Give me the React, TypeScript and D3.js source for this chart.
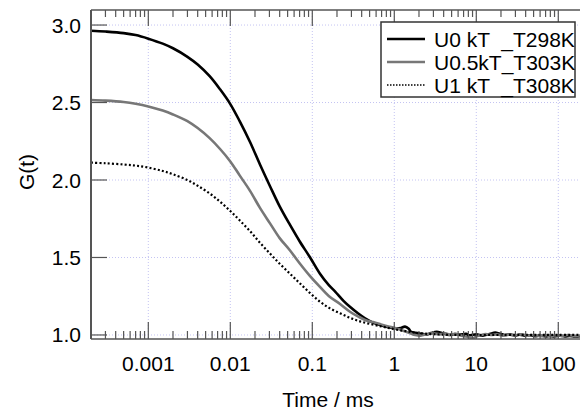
import React from "react";
import * as d3 from "d3";

// ---- data ----
const tBlack = [0.0002, 0.0003, 0.0005, 0.0007, 0.001, 0.0015, 0.002, 0.003, 0.004, 0.0056, 0.0075, 0.01, 0.013, 0.0174, 0.023, 0.0305, 0.04, 0.0535, 0.07, 0.094, 0.124, 0.16, 0.19, 0.24, 0.29, 0.36, 0.44, 0.55, 0.67, 0.85, 1.02, 1.2, 1.35, 1.5, 1.6, 2.06, 2.5, 2.8, 3.3, 3.8, 4.7, 5.5, 6.3, 7.5, 8.3, 10, 12, 14.5, 17, 19, 22, 25.6, 30, 34, 40, 45, 52, 59, 70, 78, 90, 104, 120, 137, 160, 190];
const gBlack = [2.963, 2.958, 2.948, 2.935, 2.912, 2.88, 2.85, 2.795, 2.745, 2.67, 2.585, 2.49, 2.38, 2.245, 2.1, 1.96, 1.83, 1.71, 1.605, 1.5, 1.395, 1.32, 1.28, 1.22, 1.18, 1.14, 1.107, 1.08, 1.065, 1.05, 1.043, 1.045, 1.054, 1.04, 1.02, 1.01, 1.004, 1.012, 1.02, 1.012, 1.0, 1.006, 1.002, 1.008, 0.998, 1.004, 0.996, 1.006, 1.015, 1.01, 1.0, 1.004, 0.996, 1.002, 0.994, 0.998, 0.992, 0.996, 0.99, 0.994, 0.99, 0.996, 0.99, 0.994, 0.99, 0.992];

const tGray = [0.0002, 0.0003, 0.0005, 0.0007, 0.001, 0.0015, 0.002, 0.003, 0.004, 0.0056, 0.0075, 0.01, 0.013, 0.0174, 0.023, 0.0305, 0.04, 0.0535, 0.0708, 0.094, 0.124, 0.16, 0.218, 0.288, 0.36, 0.44, 0.55, 0.67, 0.85, 1.02, 1.56, 1.8, 2.1, 2.5, 3, 3.6, 4.2, 4.7, 5.5, 6.3, 7.5, 8.3, 9, 10, 11.5, 13, 15, 18, 21, 25, 30, 36, 42, 50, 60, 70, 80, 95, 110, 130, 160, 190];
const gGray = [2.516, 2.512, 2.503, 2.492, 2.475, 2.448, 2.423, 2.38, 2.335, 2.27, 2.2, 2.12, 2.03, 1.93, 1.82, 1.72, 1.625, 1.545, 1.46, 1.38, 1.31, 1.25, 1.2, 1.15, 1.12, 1.097, 1.083, 1.07, 1.055, 1.045, 1.011, 1.0, 0.996, 1.006, 1.01, 1.004, 1.01, 1.002, 1.008, 0.998, 0.99, 0.985, 0.976, 0.99, 1.0, 1.006, 1.0, 1.004, 0.996, 1.002, 0.998, 1.004, 0.996, 1.0, 0.994, 1.0, 0.992, 0.998, 0.994, 1.0, 0.994, 0.998];

const tDot = [0.0002, 0.0003, 0.0005, 0.0007, 0.001, 0.0015, 0.002, 0.003, 0.004, 0.0056, 0.0075, 0.01, 0.013, 0.0174, 0.023, 0.0305, 0.04, 0.0535, 0.07, 0.094, 0.124, 0.16, 0.218, 0.29, 0.38, 0.506, 0.7, 0.887, 1.2, 1.56, 2, 3, 6, 20, 190];
const gDot = [2.112, 2.108, 2.1, 2.093, 2.08, 2.058, 2.037, 2.0, 1.963, 1.913, 1.86, 1.8, 1.74, 1.67, 1.595, 1.525, 1.46, 1.395, 1.335, 1.27, 1.215, 1.175, 1.14, 1.11, 1.088, 1.071, 1.055, 1.043, 1.03, 1.02, 1.012, 1.005, 1.0, 1.0, 1.0];

const seriesNames = ["U0 kT  _T298K", "U0.5kT_T303K", "U1 kT  _T308K"];
const xTickValues = [0.001, 0.01, 0.1, 1, 10, 100];
const xTickLabels = ["0.001", "0.01", "0.1", "1", "10", "100"];
const yTickValues = [1.0, 1.5, 2.0, 2.5, 3.0];
const yTickLabels = ["1.0", "1.5", "2.0", "2.5", "3.0"];

const W = 580, H = 412;
const L = 91, R = 580, T = 10, B = 339;
const FONT = "'Liberation Sans', Arial, Helvetica, sans-serif";
const AX = "#555";

export default function App() {
  const x = d3.scaleLog().domain([2.0e-4, 184]).range([L, R]);
  const y = d3.scaleLinear().domain([0.974, 3.097]).range([B, T]);

  const mk = (ts: number[], gs: number[]) =>
    d3.line<number>().x((_, i) => x(ts[i])).y((g) => y(g)).curve(d3.curveCatmullRom.alpha(0.5))(gs) || "";

  const series = [
    { d: mk(tBlack, gBlack), color: "#000", width: 2.6, dash: undefined as string | undefined },
    { d: mk(tGray, gGray), color: "#777", width: 2.6, dash: undefined },
    { d: mk(tDot, gDot), color: "#000", width: 2.2, dash: "2 2.2" },
  ];

  const minor: number[] = [];
  for (let e = -4; e <= 2; e++) {
    for (let m = 2; m <= 9; m++) {
      const v = m * Math.pow(10, e);
      if (v > 2.0e-4 && v < 184) minor.push(v);
    }
  }

  const legX = 381, legY = 22, legW = 194, legH = 75;

  return (
    <svg width={W} height={H} style={{ position: "absolute", left: 0, top: 0, background: "#fff" }} fontFamily={FONT}>
      <defs>
        <clipPath id="plotclip">
          <rect x={L} y={T} width={R - L} height={B - T} />
        </clipPath>
      </defs>
      {/* grid */}
      {xTickValues.map((v) => (
        <line key={"gx" + v} x1={x(v)} x2={x(v)} y1={T} y2={B} stroke="#c4c4f2" strokeWidth={1} strokeDasharray="1 2" />
      ))}
      {yTickValues.map((v) => (
        <line key={"gy" + v} x1={L} x2={R} y1={y(v)} y2={y(v)} stroke="#c4c4f2" strokeWidth={1} strokeDasharray="1 2" />
      ))}
      {/* curves */}
      <g clipPath="url(#plotclip)">
        {series.map((s, i) => (
          <path key={i} d={s.d} fill="none" stroke={s.color} strokeWidth={s.width} strokeDasharray={s.dash} strokeLinejoin="round" />
        ))}
      </g>
      {/* frame */}
      <line x1={L} x2={L} y1={T} y2={B} stroke={AX} strokeWidth={2} />
      <line x1={L} x2={R} y1={T} y2={T} stroke={AX} strokeWidth={1.5} />
      <line x1={L} x2={R} y1={B} y2={B} stroke={AX} strokeWidth={1.5} />
      {/* x ticks */}
      {xTickValues.map((v) => (
        <g key={"xt" + v}>
          <line x1={x(v)} x2={x(v)} y1={B} y2={B - 17} stroke={AX} strokeWidth={1.2} />
          <line x1={x(v)} x2={x(v)} y1={T} y2={T + 16} stroke={AX} strokeWidth={1.2} />
        </g>
      ))}
      {minor.map((v) => (
        <g key={"xm" + v}>
          <line x1={x(v)} x2={x(v)} y1={B} y2={B - 8} stroke={AX} strokeWidth={1.2} />
          <line x1={x(v)} x2={x(v)} y1={T} y2={T + 7} stroke={AX} strokeWidth={1.2} />
        </g>
      ))}
      {/* y ticks */}
      {yTickValues.map((v) => (
        <line key={"yt" + v} x1={L} x2={L + 16} y1={y(v)} y2={y(v)} stroke={AX} strokeWidth={1.2} />
      ))}
      {/* tick labels */}
      {xTickValues.map((v, i) => (
        <text key={"xl" + v} x={x(v)} y={371} textAnchor="middle" fontSize={21} fill="#000">
          {xTickLabels[i]}
        </text>
      ))}
      {yTickValues.map((v, i) => (
        <text key={"yl" + v} x={81} y={y(v) + 7.5} textAnchor="end" fontSize={21} fill="#000">
          {yTickLabels[i]}
        </text>
      ))}
      {/* axis titles */}
      <text x={328} y={407} textAnchor="middle" fontSize={21} fill="#000">Time / ms</text>
      <text transform={`translate(34,172) rotate(-90)`} textAnchor="middle" fontSize={21} fill="#000">G(t)</text>
      {/* legend */}
      <rect x={legX} y={legY} width={legW} height={legH} fill="#fff" stroke="#333" strokeWidth={1.5} />
      {series.map((s, i) => (
        <g key={"lg" + i}>
          <line x1={387} x2={425} y1={39 + i * 23} y2={39 + i * 23} stroke={s.color} strokeWidth={i === 2 ? 1.5 : 2.4} strokeDasharray={i === 2 ? "1.5 1.5" : undefined} />
          <text x={434} y={39 + i * 23 + 7.5} fontSize={21} fill="#000" style={{ whiteSpace: "pre" }}>
            {seriesNames[i]}
          </text>
        </g>
      ))}
    </svg>
  );
}
